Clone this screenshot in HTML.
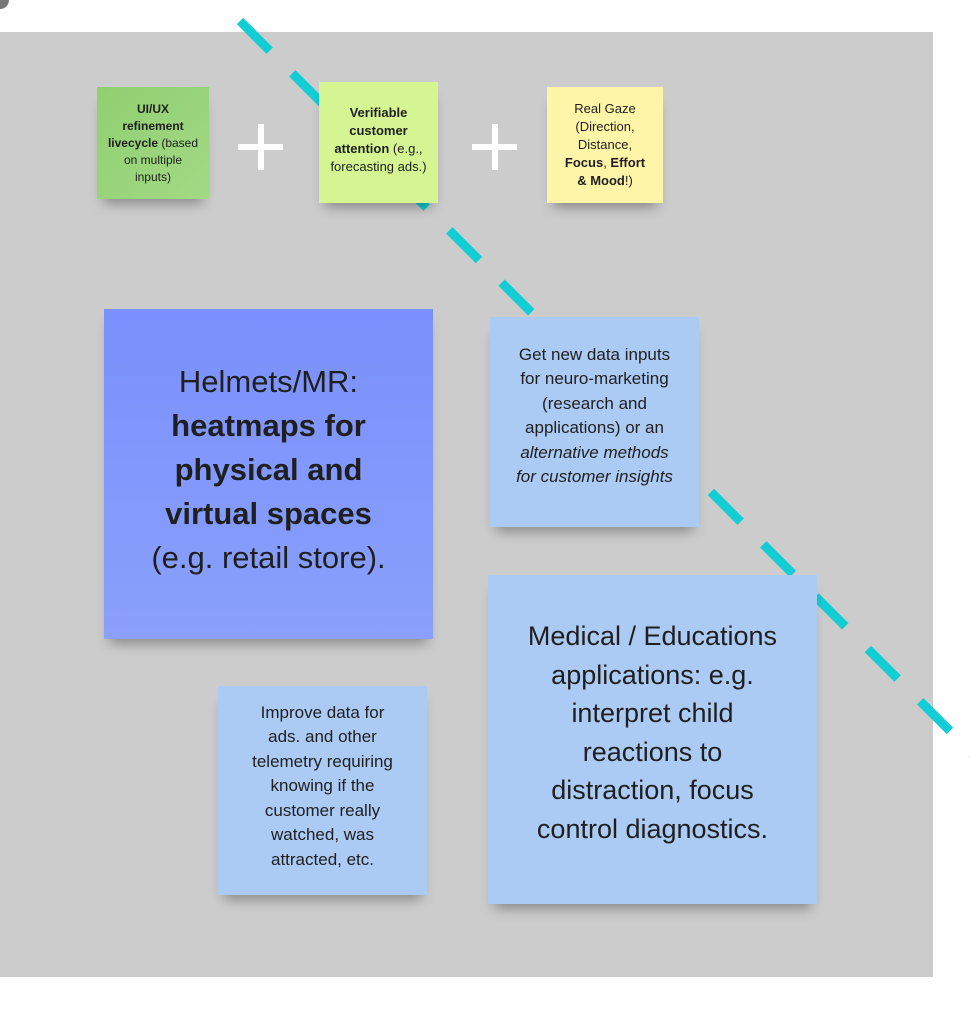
<!DOCTYPE html>
<html><head><style>
body{margin:0;width:970px;height:1026px;background:#fff;position:relative;overflow:hidden;font-family:"Liberation Sans",sans-serif;color:#1f1f1f}
.bg{position:absolute;left:0;top:32px;width:933px;height:945px;background:#cccccc}
.s{position:absolute;display:flex;align-items:center;justify-content:center;text-align:center;box-sizing:border-box;box-shadow:0 10px 12px -6px rgba(0,0,0,.35);white-space:nowrap}
.p{position:absolute;background:#fff}
</style></head><body>
<div class="bg"></div>
<svg style="position:absolute;left:0;top:0" width="970" height="1026"><line x1="240" y1="21" x2="975" y2="756" stroke="#12cdd4" stroke-width="9" stroke-dasharray="42 32"/></svg>
<svg style="position:absolute;left:0;top:0" width="20" height="20"><circle cx="0" cy="0" r="9" fill="#777"/></svg>
<div class="s" style="left:97px;top:87px;width:112px;height:112px;background:linear-gradient(135deg,#90cf70,#a2d985);font-size:12px;line-height:17px"><div><b>UI/UX<br>refinement<br>livecycle</b> (based<br>on multiple<br>inputs)</div></div>
<div class="p" style="left:238px;top:144px;width:45px;height:6px"></div><div class="p" style="left:258px;top:124px;width:6px;height:46px"></div>
<div class="s" style="left:319px;top:82px;width:119px;height:121px;background:#d5f593;font-size:13px;line-height:18px;padding-bottom:6px"><div><b>Verifiable<br>customer<br>attention</b> (e.g.,<br>forecasting ads.)</div></div>
<div class="p" style="left:472px;top:144px;width:45px;height:6px"></div><div class="p" style="left:492px;top:124px;width:6px;height:46px"></div>
<div class="s" style="left:547px;top:87px;width:116px;height:116px;background:#fff5a8;font-size:13px;line-height:18px"><div>Real Gaze<br>(Direction,<br>Distance,<br><b>Focus</b>, <b>Effort</b><br><b>&amp; Mood</b>!)</div></div>
<div class="s" style="left:104px;top:309px;width:329px;height:330px;background:linear-gradient(180deg,#7a90fc,#8aa0fb);font-size:31px;line-height:44px;padding-bottom:8px"><div>Helmets/MR:<br><b>heatmaps for<br>physical and<br>virtual spaces</b><br>(e.g. retail store).</div></div>
<div class="s" style="left:490px;top:317px;width:209px;height:210px;background:#abcaf4;font-size:17px;line-height:24.5px;padding-bottom:12px"><div>Get new data inputs<br>for neuro-marketing<br>(research and<br>applications) or an<br><i>alternative methods<br>for customer insights</i></div></div>
<div class="s" style="left:218px;top:686px;width:209px;height:209px;background:#abcaf4;font-size:17px;line-height:24.5px;padding-bottom:8px"><div>Improve data for<br>ads. and other<br>telemetry requiring<br>knowing if the<br>customer really<br>watched, was<br>attracted, etc.</div></div>
<div class="s" style="left:488px;top:575px;width:329px;height:329px;background:#abcaf4;font-size:27px;line-height:38.5px;padding-bottom:14px"><div>Medical / Educations<br>applications: e.g.<br>interpret child<br>reactions to<br>distraction, focus<br>control diagnostics.</div></div>
</body></html>
